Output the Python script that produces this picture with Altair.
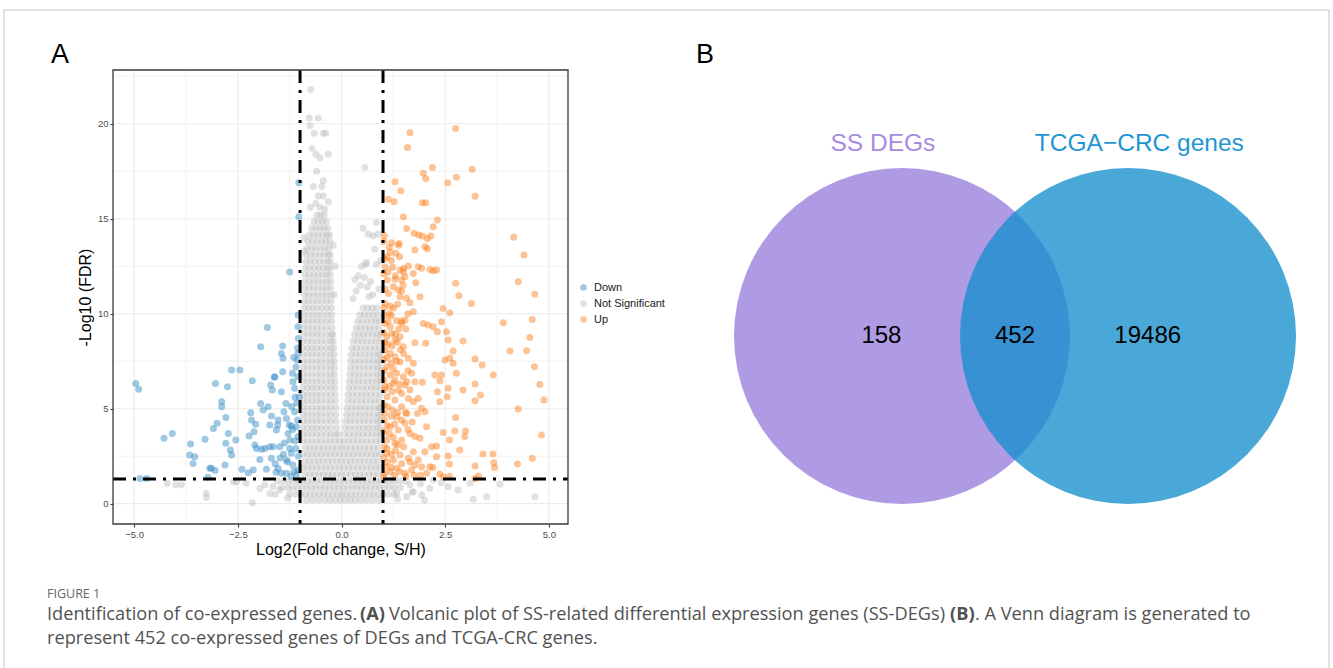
import altair as alt
import pandas as pd

# ---------------- volcano data ----------------
down_lfc = [-4.96, -4.89, -4.86, -4.7, -4.28, -4.08, -3.64, -3.66, -3.54, -3.58, -3.29, -3.18, -3.14, -3.05, -3.22,
            -3.09, -3.0, -3.04, -2.89, -2.89, -2.79, -2.75, -2.65, -2.45, -2.73, -2.79, -2.68, -2.65, -2.55, -2.81,
            -2.4, -2.25, -2.15, -2.19, -2.17, -2.23, -2.11, -2.09, -2.07, -2.13, -1.97, -2.05, -1.95, -1.95, -1.79,
            -1.89, -1.93, -1.85, -1.73, -1.77, -1.73, -1.69, -1.65, -1.69, -1.81, -1.71, -1.67, -1.62, -1.61, -1.45,
            -1.57, -1.54, -1.53, -1.49, -1.53, -1.45, -1.42, -1.45, -1.41, -1.42, -1.39, -1.34, -1.33, -1.29, -1.26,
            -1.25, -1.21, -1.25, -1.18, -1.17, -1.13, -1.21, -1.17, -1.13, -1.09, -1.1, -1.33, -1.33, -1.09, -1.05,
            -1.03, -1.03, -1.05, -1.05, -1.05, -1.07, -1.05, -1.02, -1.05, -1.12, -1.18, -1.25, -1.3, -1.15, -1.22,
            -1.4, -1.38, -1.48, -1.6, -1.58, -1.04, -1.06, -1.08, -1.12, -1.2, -1.04, -1.06, -1.1, -1.15]
down_fdr = [6.33, 6.02, 1.33, 1.33, 3.44, 3.7, 3.14, 2.56, 2.47, 2.12, 3.39, 1.86, 1.86, 1.74, 1.39,
            3.96, 4.23, 6.33, 5.37, 5.1, 4.53, 6.16, 7.04, 7.04, 3.7, 3.18, 2.82, 2.56, 3.35, 2.04,
            1.81, 1.63, 6.47, 4.79, 4.4, 3.56, 3.79, 3.09, 4.18, 1.77, 2.33, 2.91, 5.28, 8.26, 9.28,
            4.93, 2.86, 2.91, 3.0, 5.1, 4.14, 4.61, 3.0, 2.39, 1.81, 6.25, 5.98, 6.65, 6.68, 5.89,
            3.88, 4.14, 4.4, 3.0, 1.86, 1.6, 8.3, 7.91, 7.65, 6.95, 4.84, 5.28, 4.49, 3.7, 4.14,
            3.35, 4.09, 12.2, 6.86, 6.42, 6.07, 2.65, 2.04, 4.84, 4.05, 2.91, 2.3, 1.6, 1.51, 1.77,
            16.9, 15.1, 9.93, 9.32, 7.91, 7.56, 6.68, 5.63, 3.53, 3.3, 3.9, 2.9, 2.2, 1.7, 1.45,
            2.6, 3.2, 2.4, 2.1, 1.65, 2.5, 4.4, 5.3, 5.6, 5.1, 8.7, 8.2, 7.2, 7.7]

up_lfc = [1.65, 1.59, 2.75, 2.19, 1.97, 2.03, 3.15, 2.77, 2.56, 1.29, 1.43, 3.22, 1.13, 1.27, 1.95, 2.03, 1.49, 2.31,
          1.57, 2.21, 1.03, 1.75, 1.86, 1.95, 2.07, 2.01, 2.07, 2.15, 1.21, 1.37, 1.39, 1.77, 1.1, 1.17, 1.31, 4.15,
          4.4, 1.05, 1.23, 1.41, 1.49, 1.61, 1.73, 1.85, 1.93, 2.13, 2.29, 2.21, 1.1, 1.29, 1.45, 1.53, 1.25, 1.37,
          4.26, 2.75, 2.83, 1.79, 1.13, 1.41, 1.57, 4.66, 1.05, 1.17, 1.65, 1.89, 1.73, 2.45, 2.61, 3.13, 3.9, 4.6,
          1.05, 1.17, 1.33, 1.45, 1.53, 1.97, 2.09, 2.21, 2.31, 2.41, 2.53, 2.57, 1.09, 1.21, 1.29, 1.41, 1.49, 1.77,
          2.03, 2.93, 4.54, 1.05, 1.17, 1.29, 1.41, 1.61, 1.73, 2.69, 2.61, 2.49, 2.69, 3.22, 3.39, 4.06, 4.46, 4.65,
          1.09, 1.17, 1.33, 1.49, 1.57, 1.69, 1.77, 2.25, 2.41, 2.77, 3.66, 1.05, 1.25, 1.37, 1.53, 1.95, 2.37, 2.57,
          3.22, 2.93, 4.78, 1.1, 1.29, 1.45, 1.61, 1.73, 1.85, 2.31, 2.55, 2.37, 3.22, 3.35, 4.88, 1.05, 1.23, 1.33,
          1.57, 1.93, 2.01, 1.83, 2.75, 4.26, 1.17, 1.37, 1.53, 1.65, 1.77, 2.05, 2.45, 2.73, 2.99, 2.97, 4.82, 1.09,
          1.29, 1.45, 1.89, 2.17, 2.29, 2.6, 2.85, 1.09, 1.25, 1.41, 1.61, 1.73, 2.01, 2.29, 2.57, 3.41, 3.65, 3.67,
          3.69, 3.22, 4.24, 4.6, 2.6, 1.05, 1.17, 1.33, 1.53, 1.69, 1.77, 1.93, 2.13, 2.37, 3.3, 3.22,
          1.02, 1.04, 1.02, 1.05, 1.02, 1.03, 1.02, 1.04, 1.02, 1.03, 1.02, 1.04, 1.02, 1.03, 1.02, 1.04, 1.02, 1.03,
          1.02, 1.12, 1.15, 1.12, 1.2, 1.25, 1.12, 1.22, 1.3, 1.35, 1.38, 1.45, 1.1, 1.2, 1.25, 1.33, 1.15, 1.22,
          1.28, 1.4, 1.45, 1.12, 1.2, 1.28, 1.35, 1.45, 1.1, 1.15, 1.25, 1.35, 1.5, 1.1, 1.2, 1.3, 1.45, 1.1, 1.2,
          1.28, 1.4, 1.55, 1.65, 1.85, 1.9, 1.75, 2.05, 2.2, 2.45, 2.6, 1.6, 1.7, 1.55, 1.65, 1.6, 1.5, 1.42, 1.55,
          1.6, 1.35, 1.45, 1.3, 1.2, 1.15, 1.4, 1.5, 1.48]
up_fdr = [19.53, 18.75, 19.75, 17.7, 17.39, 17.12, 17.61, 17.18, 16.89, 16.95, 16.47, 16.19, 16.02, 15.89, 15.84, 15.84,
          15.1, 14.93, 14.49, 14.58, 14.1, 14.23, 14.14, 14.09, 13.96, 13.53, 13.42, 14.09, 13.74, 13.61, 13.7, 13.35,
          13.0, 13.23, 13.18, 14.02, 13.09, 12.47, 12.44, 12.3, 12.21, 12.51, 12.12, 12.47, 12.39, 12.33, 12.3, 12.26,
          11.77, 11.81, 11.77, 11.95, 11.42, 11.25, 11.68, 11.6, 10.95, 11.63, 11.07, 10.89, 10.81, 11.02, 10.54, 10.4,
          10.58, 10.89, 10.11, 10.28, 10.05, 10.54, 9.53, 9.7, 9.49, 9.32, 9.63, 9.49, 9.67, 9.49, 9.4, 9.32, 9.05,
          9.58, 9.05, 8.61, 8.79, 8.96, 8.61, 8.79, 8.26, 8.47, 8.44, 8.56, 8.75, 8.09, 7.91, 7.74, 7.47, 7.65, 7.39,
          8.04, 7.65, 7.56, 7.39, 7.61, 7.3, 8.04, 8.05, 7.21, 7.21, 6.77, 6.86, 6.68, 6.42, 6.86, 6.42, 6.77, 6.77,
          6.86, 6.77, 6.16, 6.33, 5.98, 6.25, 6.39, 6.47, 6.07, 6.3, 5.98, 6.28, 5.63, 5.46, 5.1, 5.54, 5.37, 5.54,
          5.89, 5.63, 5.37, 5.42, 5.72, 5.46, 4.75, 4.93, 4.58, 4.75, 5.02, 4.84, 4.75, 4.53, 4.98, 4.05, 3.88, 4.23,
          3.7, 3.53, 4.05, 3.75, 3.82, 3.82, 3.53, 3.61, 3.35, 3.18, 3.35, 3.44, 3.0, 3.04, 3.35, 2.82, 2.65, 2.3,
          2.56, 2.39, 2.74, 2.74, 2.47, 2.51, 2.61, 2.61, 2.16, 1.91, 1.98, 2.09, 2.39, 2.09, 1.95, 1.68, 1.86, 1.6,
          1.77, 2.04, 1.95, 1.95, 1.56, 1.46, 1.33,
          13.8, 12.9, 12.1, 11.3, 10.3, 9.9, 9.0, 8.5, 7.6, 7.0, 6.5, 6.0, 5.2, 4.4, 3.8, 3.0, 2.4, 1.6,
          1.4, 12.2, 10.0, 9.6, 9.9, 10.3, 8.4, 8.3, 8.9, 8.5, 9.2, 9.6, 7.7, 7.4, 7.1, 7.5, 6.2, 5.9,
          6.5, 6.3, 5.8, 5.1, 4.6, 4.2, 4.8, 4.4, 4.1, 3.7, 3.5, 3.1, 3.0, 2.9, 2.6, 2.8, 2.1, 2.2, 1.9,
          1.5, 1.7, 1.45, 2.2, 2.3, 1.5, 1.5, 1.6, 1.9, 1.4, 1.45, 3.9, 4.3, 4.8, 6.0, 7.0, 7.9, 8.1, 9.2,
          10.0, 10.5, 11.2, 12.0, 12.8, 13.5, 13.0, 12.4, 11.5]

# not-significant genes: dense cloud read row by row (-log10 FDR, log2FC positions)
ns_rows = [
    (15.2, [-0.6, -0.51, -0.42]),
    (14.85, [-0.66, -0.56, -0.46, -0.37]),
    (14.5, [-0.72, -0.62, -0.52, -0.42, -0.33]),
    (14.15, [-0.77, -0.67, -0.56, -0.45, -0.35, -0.29]),
    (13.8, [-0.81, -0.7, -0.59, -0.48, -0.38, -0.28]),
    (13.45, [-0.83, -0.73, -0.62, -0.51, -0.4, -0.3]),
    (13.1, [-0.85, -0.75, -0.64, -0.53, -0.42, -0.32, -0.27]),
    (12.75, [-0.86, -0.76, -0.65, -0.54, -0.43, -0.33, -0.27]),
    (12.4, [-0.87, -0.77, -0.66, -0.55, -0.44, -0.34, -0.27]),
    (12.05, [-0.88, -0.78, -0.67, -0.56, -0.45, -0.35, -0.27]),
    (11.7, [-0.88, -0.78, -0.67, -0.56, -0.45, -0.35, -0.26]),
    (11.35, [-0.89, -0.79, -0.68, -0.57, -0.46, -0.36, -0.26]),
    (11.0, [-0.89, -0.79, -0.68, -0.57, -0.46, -0.36, -0.25]),
    (10.65, [-0.9, -0.8, -0.69, -0.58, -0.47, -0.36, -0.25]),
    (10.3, [-0.9, -0.8, -0.69, -0.58, -0.47, -0.35, -0.24, 0.52, 0.63, 0.74, 0.85]),
    (9.95, [-0.91, -0.8, -0.69, -0.58, -0.47, -0.35, -0.24, 0.44, 0.55, 0.66, 0.77, 0.88]),
    (9.6, [-0.91, -0.81, -0.7, -0.59, -0.48, -0.36, -0.24, 0.39, 0.5, 0.61, 0.72, 0.83, 0.92]),
    (9.25, [-0.92, -0.81, -0.7, -0.59, -0.48, -0.36, -0.23, 0.35, 0.46, 0.57, 0.68, 0.79, 0.9]),
    (8.9, [-0.92, -0.81, -0.7, -0.59, -0.48, -0.36, -0.24, -0.21, 0.31, 0.42, 0.53, 0.64, 0.75, 0.86, 0.93]),
    (8.55, [-0.93, -0.82, -0.71, -0.6, -0.49, -0.37, -0.26, -0.2, 0.28, 0.39, 0.5, 0.61, 0.72, 0.83, 0.93]),
    (8.2, [-0.93, -0.82, -0.71, -0.6, -0.49, -0.37, -0.26, -0.19, 0.25, 0.36, 0.47, 0.58, 0.69, 0.8, 0.91]),
    (7.85, [-0.93, -0.82, -0.71, -0.6, -0.49, -0.37, -0.26, -0.18, 0.23, 0.34, 0.45, 0.56, 0.67, 0.78, 0.89, 0.93]),
    (7.5, [-0.93, -0.82, -0.71, -0.6, -0.49, -0.37, -0.26, -0.18, 0.22, 0.33, 0.44, 0.55, 0.66, 0.77, 0.88, 0.93]),
    (7.15, [-0.93, -0.82, -0.71, -0.6, -0.49, -0.37, -0.26, -0.17, 0.21, 0.32, 0.43, 0.54, 0.65, 0.76, 0.87, 0.93]),
    (6.8, [-0.93, -0.82, -0.71, -0.6, -0.49, -0.37, -0.26, -0.17, 0.2, 0.31, 0.42, 0.53, 0.64, 0.75, 0.86, 0.93]),
    (6.45, [-0.93, -0.82, -0.71, -0.6, -0.49, -0.37, -0.26, -0.16, 0.19, 0.3, 0.41, 0.52, 0.63, 0.74, 0.85, 0.93]),
    (6.1, [-0.93, -0.82, -0.71, -0.6, -0.49, -0.37, -0.26, -0.16, 0.17, 0.28, 0.39, 0.5, 0.61, 0.72, 0.83, 0.93]),
    (5.75, [-0.93, -0.82, -0.71, -0.6, -0.49, -0.37, -0.26, -0.15, 0.16, 0.27, 0.38, 0.49, 0.6, 0.71, 0.82, 0.93]),
    (5.4, [-0.93, -0.82, -0.71, -0.6, -0.49, -0.37, -0.26, -0.15, 0.15, 0.26, 0.37, 0.48, 0.59, 0.7, 0.81, 0.92]),
    (5.05, [-0.93, -0.82, -0.71, -0.6, -0.49, -0.37, -0.26, -0.14, 0.13, 0.24, 0.35, 0.46, 0.57, 0.68, 0.79, 0.9, 0.93]),
    (4.7, [-0.93, -0.82, -0.71, -0.6, -0.49, -0.37, -0.26, -0.14, 0.12, 0.23, 0.34, 0.45, 0.56, 0.67, 0.78, 0.89, 0.93]),
    (4.35, [-0.93, -0.82, -0.71, -0.6, -0.49, -0.37, -0.26, -0.13, 0.1, 0.21, 0.32, 0.43, 0.54, 0.65, 0.76, 0.87, 0.93]),
    (4.0, [-0.93, -0.82, -0.71, -0.6, -0.49, -0.37, -0.26, -0.12, 0.09, 0.2, 0.31, 0.42, 0.53, 0.64, 0.75, 0.86, 0.93]),
    (3.65, [-0.93, -0.82, -0.71, -0.6, -0.49, -0.37, -0.26, -0.15, -0.08, 0.08, 0.19, 0.3, 0.41, 0.52, 0.63, 0.74, 0.85, 0.93]),
    (3.3, [-0.93, -0.82, -0.71, -0.6, -0.49, -0.38, -0.27, -0.16, -0.05, 0.06, 0.17, 0.28, 0.39, 0.5, 0.61, 0.72, 0.83, 0.93]),
    (2.95, [-0.88, -0.77, -0.66, -0.55, -0.44, -0.33, -0.22, -0.11, 0.0, 0.11, 0.22, 0.33, 0.44, 0.55, 0.66, 0.77, 0.88]),
    (2.6, [-0.93, -0.82, -0.71, -0.6, -0.49, -0.38, -0.27, -0.16, -0.05, 0.06, 0.17, 0.28, 0.39, 0.5, 0.61, 0.72, 0.83, 0.93]),
    (2.25, [-0.88, -0.77, -0.66, -0.55, -0.44, -0.33, -0.22, -0.11, 0.0, 0.11, 0.22, 0.33, 0.44, 0.55, 0.66, 0.77, 0.88]),
    (1.9, [-0.93, -0.82, -0.71, -0.6, -0.49, -0.38, -0.27, -0.16, -0.05, 0.06, 0.17, 0.28, 0.39, 0.5, 0.61, 0.72, 0.83, 0.93]),
    (1.55, [-0.88, -0.77, -0.66, -0.55, -0.44, -0.33, -0.22, -0.11, 0.0, 0.11, 0.22, 0.33, 0.44, 0.55, 0.66, 0.77, 0.88]),
    (1.2, [-1.55, -1.4, -1.27, -1.15, -1.04, -0.93, -0.82, -0.71, -0.6, -0.49, -0.38, -0.27, -0.16, -0.05, 0.06,
           0.17, 0.28, 0.39, 0.5, 0.61, 0.72, 0.83, 0.93, 1.04, 1.15, 1.27, 1.4, 1.55]),
    (0.85, [-1.45, -1.3, -1.18, -1.06, -0.95, -0.84, -0.73, -0.62, -0.51, -0.4, -0.29, -0.18, -0.07, 0.04, 0.15,
            0.26, 0.37, 0.48, 0.59, 0.7, 0.81, 0.92, 1.03, 1.15, 1.28, 1.42]),
    (0.5, [-1.25, -1.1, -0.98, -0.87, -0.76, -0.65, -0.54, -0.43, -0.32, -0.21, -0.1, 0.01, 0.12, 0.23, 0.34,
           0.45, 0.56, 0.67, 0.78, 0.89, 1.0, 1.12, 1.26]),
    (0.2, [-0.85, -0.7, -0.55, -0.4, -0.27, -0.15, -0.03, 0.09, 0.21, 0.33, 0.46, 0.6, 0.75, 0.9]),
]
ns_extra_lfc = [-0.74, -0.78, -0.56, -0.76, -0.66, -0.44, -0.38, -0.71, -0.62, -0.52, -0.32, -0.6, -0.44, -0.48,
                -0.68, -0.56, -0.44, -0.32, -0.75, -0.52, -0.62, -0.4, -0.9, 0.56, 0.52, 0.64, 0.76, 0.84, 0.88,
                0.8, 0.6, 0.58, 0.48, 0.84, 0.32, 0.4, 0.45, 0.55, 0.62, 0.7, 0.75, 0.35, 0.28, 0.66, 0.9, 0.95,
                -0.2, -0.15, -0.18, -0.9, -4.2, -4.0, -3.86, -3.26, -3.26, -2.53, -2.3, -2.15, -1.97, -1.73,
                -1.49, -2.6, -1.85, -1.65, 1.33, 1.57, 1.73, 1.93, 2.13, 2.57, 2.81, 3.18, 3.5, 3.1, 3.82, 4.66,
                2.21, 1.9, 2.4, 1.65, 2.0, -1.3, 1.35, -1.6, 1.7]
ns_extra_fdr = [21.8, 20.3, 20.3, 19.9, 19.5, 19.5, 19.5, 18.7, 18.4, 18.2, 18.4, 17.5, 17.0, 16.7,
                16.7, 16.2, 16.2, 15.9, 15.6, 15.6, 15.8, 15.5, 13.3, 17.7, 14.5, 14.2, 14.1, 14.8, 14.2,
                13.4, 12.7, 12.6, 12.5, 12.6, 11.8, 12.0, 11.5, 11.9, 11.4, 11.7, 11.0, 11.2, 10.8, 10.9, 11.3, 12.8,
                13.6, 12.5, 11.0, 14.0, 1.07, 1.0, 1.0, 0.54, 0.33, 1.16, 1.07, 0.05, 0.8, 0.54,
                0.72, 1.15, 1.0, 0.9, 0.54, 0.37, 0.63, 0.46, 0.81, 0.9, 0.72, 0.23, 0.37, 1.07, 1.03, 0.37,
                1.25, 1.05, 1.1, 1.0, 0.2, 0.3, 0.25, 0.5, 0.6]

groups = ["Down", "Not Significant", "Up"]
group_colors = ["#2B85C2", "#BDBDBD", "#FA7A14"]
fc_cut = [-1, 1]
fdr_cut = 1.3
x_ticks = [-5, -2.5, 0, 2.5, 5]
y_ticks = [0, 5, 10, 15, 20]
x_minor = [-3.75, -1.25, 1.25, 3.75]
y_minor = [2.5, 7.5, 12.5, 17.5, 22.5]

# ---------------- venn data ----------------
venn_sets = ["SS DEGs", "TCGA\u2212CRC genes"]
venn_counts = [158, 452, 19486]
venn_fill = ["#AF9BE3", "#138ECD"]
venn_text_colors = ["#A68BE0", "#1F95D3"]

# ---------------- caption text ----------------
fig_label = "FIGURE 1"
cap_segments = ["Identification of co-expressed genes.",
                "Volcanic plot of SS-related differential expression genes (SS-DEGs)",
                ". A Venn diagram is generated to",
                "represent 452 co-expressed genes of DEGs and TCGA-CRC genes."]
cap_bold_segments = ["(A)", "(B)"]

# ---------------- layout ----------------
W, H = 1333, 668
PX0, PX1, PY0, PY1 = 113, 568, 70, 524
XDOM = [-5.51, 5.46]
YDOM = [-1.07, 22.83]
FONT = "Liberation Sans"

xs = alt.Scale(domain=XDOM, range=[PX0, PX1], nice=False, zero=False)
ys = alt.Scale(domain=YDOM, range=[PY1, PY0], nice=False, zero=False)

rows = []
for yv, xl in ns_rows:
    for xv in xl:
        rows.append({"lfc": xv, "nl": yv, "group": "Not Significant"})
for xv, yv in zip(ns_extra_lfc, ns_extra_fdr):
    rows.append({"lfc": xv, "nl": yv, "group": "Not Significant"})
for xv, yv in zip(down_lfc, down_fdr):
    rows.append({"lfc": xv, "nl": yv, "group": "Down"})
for xv, yv in zip(up_lfc, up_fdr):
    rows.append({"lfc": xv, "nl": yv, "group": "Up"})
pts = pd.DataFrame(rows)

x_axis = alt.Axis(values=x_ticks, format=".1f", grid=False, domain=False, tickSize=3, tickColor="#333333",
                  labelFontSize=9.5, labelColor="#4D4D4D", labelFont=FONT, labelPadding=2,
                  title="Log2(Fold change, S/H)", titleFont=FONT, titleFontSize=16, titleFontWeight="normal",
                  titleColor="#000000", titlePadding=3, offset=-(H - PY1))
y_axis = alt.Axis(values=y_ticks, grid=False, domain=False, tickSize=3, tickColor="#333333",
                  labelFontSize=9.5, labelColor="#4D4D4D", labelFont=FONT, labelPadding=2,
                  title="-Log10 (FDR)", titleFont=FONT, titleFontSize=16, titleFontWeight="normal",
                  titleColor="#000000", titlePadding=4, offset=-PX0)

gx = pd.DataFrame({"v": x_ticks + x_minor, "w": [1.1] * len(x_ticks) + [0.6] * len(x_minor),
                   "lo": YDOM[0], "hi": YDOM[1]})
gy = pd.DataFrame({"v": y_ticks + y_minor, "w": [1.1] * len(y_ticks) + [0.6] * len(y_minor),
                   "lo": XDOM[0], "hi": XDOM[1]})

grid_v = alt.Chart(gx).mark_rule(color="#EBEBEB").encode(
    x=alt.X("v:Q", scale=xs, axis=x_axis), y=alt.Y("lo:Q", scale=ys, axis=y_axis), y2="hi:Q",
    strokeWidth=alt.StrokeWidth("w:Q", scale=None))
grid_h = alt.Chart(gy).mark_rule(color="#EBEBEB").encode(
    y=alt.Y("v:Q", scale=ys), x=alt.X("lo:Q", scale=xs), x2="hi:Q",
    strokeWidth=alt.StrokeWidth("w:Q", scale=None))

points = alt.Chart(pts).mark_circle(size=49, opacity=0.45).encode(
    x=alt.X("lfc:Q", scale=xs),
    y=alt.Y("nl:Q", scale=ys),
    color=alt.Color("group:N", scale=alt.Scale(domain=groups, range=group_colors),
                    legend=alt.Legend(orient="none", legendX=578, legendY=282, title=None,
                                      symbolType="circle", symbolSize=42, symbolOpacity=0.45,
                                      symbolStrokeWidth=0, labelFont=FONT, labelFontSize=11,
                                      labelColor="#1A1A1A", rowPadding=4, padding=0, labelOffset=5)),
)

vl = pd.DataFrame({"v": fc_cut, "lo": YDOM[0], "hi": YDOM[1]})
hl = pd.DataFrame({"v": [fdr_cut], "lo": XDOM[0], "hi": XDOM[1]})
vlines = alt.Chart(vl).mark_rule(color="#000000", strokeWidth=3, strokeDash=[13, 7, 3, 7]).encode(
    x=alt.X("v:Q", scale=xs), y=alt.Y("hi:Q", scale=ys), y2="lo:Q")
hlines = alt.Chart(hl).mark_rule(color="#000000", strokeWidth=3, strokeDash=[13, 7, 3, 7]).encode(
    y=alt.Y("v:Q", scale=ys), x=alt.X("lo:Q", scale=xs), x2="hi:Q")

border = alt.Chart(pd.DataFrame({"x0": [XDOM[0]], "x1": [XDOM[1]], "y0": [YDOM[0]], "y1": [YDOM[1]]})).mark_rect(
    fillOpacity=0, stroke="#3A3A3A", strokeWidth=1.3).encode(
    x=alt.X("x0:Q", scale=xs), x2="x1:Q", y=alt.Y("y0:Q", scale=ys), y2="y1:Q")

volcano = alt.layer(grid_v, grid_h, points, vlines, hlines, border)

# ---------------- venn ----------------
VCX, VCY, VR = 1015, 336, 168
vxs = alt.Scale(domain=[-1, 1], range=[VCX - VR, VCX + VR], nice=False, zero=False)
vys = alt.Scale(domain=[-1, 1], range=[VCY + VR, VCY - VR], nice=False, zero=False)
half_gap = 0.6726
circ = pd.DataFrame({"cx": [-half_gap, half_gap], "cy": [0, 0], "set": venn_sets,
                     "fill": venn_fill, "op": [1.0, 0.77]})
circles = alt.Chart(circ).mark_circle(size=(2 * VR) ** 2).encode(
    x=alt.X("cx:Q", scale=vxs, axis=None), y=alt.Y("cy:Q", scale=vys, axis=None),
    color=alt.Color("fill:N", scale=None), opacity=alt.Opacity("op:Q", scale=None))
cnt = pd.DataFrame({"cx": [-0.795, 0.0, 0.79], "cy": [0, 0, 0], "t": [str(c) for c in venn_counts]})
counts = alt.Chart(cnt).mark_text(font=FONT, fontSize=24, color="#000000", baseline="middle").encode(
    x=alt.X("cx:Q", scale=vxs, axis=None), y=alt.Y("cy:Q", scale=vys, axis=None), text="t:N")
lab = pd.DataFrame({"cx": [-0.786, 0.74], "cy": [1.14, 1.14], "t": venn_sets, "c": venn_text_colors})
labels = alt.Chart(lab).mark_text(font=FONT, fontSize=24.5, baseline="middle").encode(
    x=alt.X("cx:Q", scale=vxs, axis=None), y=alt.Y("cy:Q", scale=vys, axis=None), text="t:N",
    color=alt.Color("c:N", scale=None))
venn = alt.layer(circles, counts, labels)

# ---------------- annotations ----------------
one = pd.DataFrame({"a": [0]})
frame = alt.Chart(one).mark_rect(fillOpacity=0, stroke="#D9D9D9", strokeWidth=1.5).encode(
    x=alt.value(4), x2=alt.value(1329), y=alt.value(10), y2=alt.value(720))
panel_lab = alt.Chart(pd.DataFrame({"t": ["A", "B"], "px": [60, 705], "py": [55, 55]})).mark_text(
    font=FONT, fontSize=27, color="#000000", baseline="middle").encode(
    x=alt.X("px:Q", scale=None), y=alt.Y("py:Q", scale=None), text="t:N")

CAP = "Open Sans"
CAPFS = 18.2
cap_norm = pd.DataFrame({"t": cap_segments, "px": [47, 389, 975, 47], "py": [615, 615, 615, 639]})
cap_bold = pd.DataFrame({"t": cap_bold_segments, "px": [360, 950], "py": [615, 615]})
caption = alt.Chart(cap_norm).mark_text(font=CAP, fontSize=CAPFS, color="#525252", align="left",
                                         baseline="middle").encode(
    x=alt.X("px:Q", scale=None), y=alt.Y("py:Q", scale=None), text="t:N")
caption_b = alt.Chart(cap_bold).mark_text(font=CAP, fontSize=CAPFS, fontWeight="bold", color="#525252",
                                           align="left", baseline="middle").encode(
    x=alt.X("px:Q", scale=None), y=alt.Y("py:Q", scale=None), text="t:N")
fig_lab = alt.Chart(pd.DataFrame({"t": [fig_label], "px": [47], "py": [594]})).mark_text(
    font=CAP, fontSize=12.5, color="#666666", align="left", baseline="middle").encode(
    x=alt.X("px:Q", scale=None), y=alt.Y("py:Q", scale=None), text="t:N")

chart = alt.layer(frame, volcano, venn, panel_lab, caption, caption_b, fig_lab).resolve_scale(
    x="independent", y="independent", color="independent", opacity="independent",
    strokeWidth="independent").properties(
    width=W, height=H, padding=0, autosize=alt.AutoSizeParams(type="none"), background="#FFFFFF"
).configure_view(strokeWidth=0)

chart.save("out.html", embed_options={"renderer": "svg", "actions": False})
